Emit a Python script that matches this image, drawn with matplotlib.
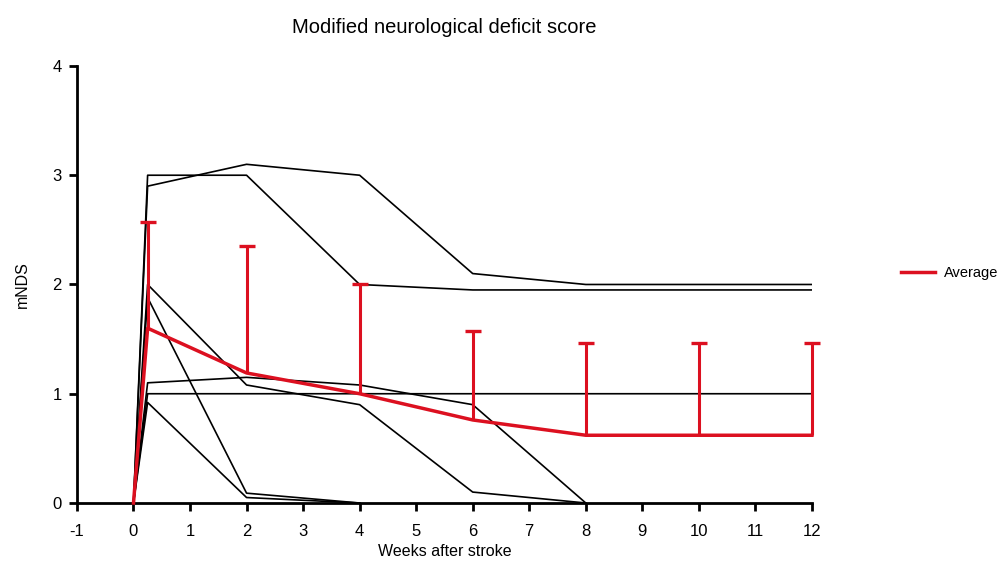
import matplotlib
matplotlib.use("Agg")
import matplotlib.pyplot as plt
import numpy as np

plt.rcParams['font.family'] = ['Liberation Sans', 'DejaVu Sans']
plt.rcParams['axes.unicode_minus'] = False

# individual animals (weeks after stroke, mNDS)
weeks_a = [0, 0.25, 2, 4, 6, 8, 12]
animal_1 = [0, 3.0, 3.0, 2.0, 1.95, 1.95, 1.95]
animal_2 = [0, 2.9, 3.1, 3.0, 2.1, 2.0, 2.0]
animal_3 = [0, 1.0, 1.0, 1.0, 1.0, 1.0, 1.0]
weeks_b = [0, 0.25, 2, 4, 6, 8]
animal_4 = [0, 2.0, 1.08, 0.9, 0.1, 0.0]
animal_5 = [0, 1.1, 1.15, 1.08, 0.9, 0.0]
weeks_c = [0, 0.25, 2, 4]
animal_6 = [0, 1.88, 0.09, 0.0]
animal_7 = [0, 0.92, 0.05, 0.0]

# group average with upper error
weeks_avg = [0, 0.25, 2, 4, 6, 8, 10, 12]
avg = [0, 1.6, 1.19, 1.0, 0.76, 0.62, 0.62, 0.62]
avg_upper = [0, 2.57, 2.35, 2.0, 1.57, 1.46, 1.46, 1.46]

fig = plt.figure(figsize=(10.02, 5.61), dpi=100)
ax = fig.add_axes([0.0768, 0.1034, 0.7335, 0.779])

for w, v in [(weeks_a, animal_1), (weeks_a, animal_2), (weeks_a, animal_3),
             (weeks_b, animal_4), (weeks_b, animal_5),
             (weeks_c, animal_6), (weeks_c, animal_7)]:
    ax.plot(w, v, color='black', lw=1.2, zorder=2)

red = '#dc1020'
# upper error bars only (stem + top cap)
ax.vlines(weeks_avg[1:], avg[1:], avg_upper[1:], colors=red, lw=2.2,
          zorder=3, clip_on=False)
ax.plot(weeks_avg[1:], avg_upper[1:], ls='none', marker='_', ms=12, mew=2.4,
        color=red, zorder=3, clip_on=False)
ax.plot(weeks_avg, avg, color=red, lw=2.5, label='Average', zorder=4,
        clip_on=False)

ax.set_xlim(-1, 12)
ax.set_ylim(0, 4)
ax.set_xticks(range(-1, 13))
ax.set_yticks(range(0, 5))
ax.spines['top'].set_visible(False)
ax.spines['right'].set_visible(False)
ax.spines['left'].set_linewidth(2)
ax.spines['bottom'].set_linewidth(2)
ax.tick_params(width=2, length=6, labelsize=12)
ax.tick_params(axis='x', pad=9)
ax.tick_params(axis='y', pad=5)
ax.set_xlabel('Weeks after stroke', fontsize=11.5, labelpad=4)
ax.set_ylabel('mNDS', fontsize=11.5, labelpad=16)
ax.set_title('Modified neurological deficit score', fontsize=14.5, pad=24)

ax.legend(loc='center left', bbox_to_anchor=(1.104, 0.526), frameon=False,
          fontsize=10.5, handlelength=2.3, handletextpad=0.6)

fig.savefig('out.png', dpi=100)
